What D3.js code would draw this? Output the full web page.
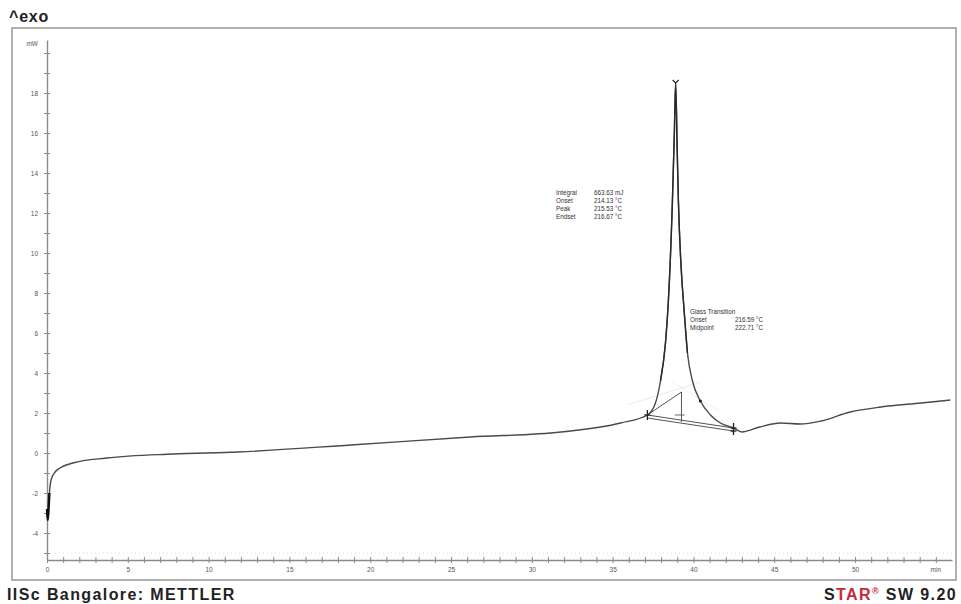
<!DOCTYPE html>
<html>
<head>
<meta charset="utf-8">
<script src="https://cdn.jsdelivr.net/npm/d3@7"></script>
<style>
  html, body { margin: 0; padding: 0; background: #fff; }
  svg { display: block; }
  text { font-family: "Liberation Sans", Arial, sans-serif; }
</style>
</head>
<body>
<svg id="chart" width="961" height="604"></svg>
<script>
// DSC heat-flow curve: time (min) vs heat flow (mW)
const timeMin = [0, 0.04, 0.08, 0.15, 0.25, 0.5, 0.8, 1.6, 3.7, 7.8, 11.8, 18.8, 26.2, 31.8, 35.5,
  37.15, 37.65, 37.96, 38.27, 38.45, 38.7, 38.82, 38.9,
  39.0, 39.07, 39.26, 39.38, 39.63, 39.94, 40.43, 41.05, 41.67, 42.48,
  43.0, 44.1, 45.4, 46.6, 47.9, 49.7, 51.6, 54.1, 55.9];
const heatFlow = [-2.8, -3.35, -3.0, -2.0, -1.35, -0.95, -0.75, -0.5, -0.25, -0.05, 0.05, 0.4, 0.8, 1.05, 1.5,
  1.9, 2.5, 3.6, 5.5, 7.6, 12.6, 16.0, 18.5,
  15.0, 12.6, 9.0, 7.6, 5.0, 3.6, 2.6, 1.9, 1.5, 1.25,
  1.05, 1.3, 1.5, 1.45, 1.6, 2.05, 2.3, 2.5, 2.65];

// Axis ticks
const xTickValues = [0, 5, 10, 15, 20, 25, 30, 35, 40, 45, 50];
const xUnit = "min";
const yTickValues = [-4, -2, 0, 2, 4, 6, 8, 10, 12, 14, 16, 18];
const yUnit = "mW";

// Evaluation results
const peakLabels = ["Integral", "Onset", "Peak", "Endset"];
const peakValues = ["663.63 mJ", "214.13 °C", "215.53 °C", "216.67 °C"];
const glassLabels = ["Glass Transition", "Onset", "Midpoint"];
const glassValues = ["", "216.59 °C", "222.71 °C"];

// Evaluation points (min, mW)
const onsetPt = [37.15, 1.9];
const endsetPt = [42.48, 1.25];
const peakPt = [38.9, 18.5];
const tangentTop = [39.26, 3.05];
const slopeDot = [40.43, 2.6];

const svg = d3.select("#chart");
const x = d3.scaleLinear().domain([0, 56]).range([47, 952]);
const y = d3.scaleLinear().domain([-5.35, 20.65]).range([560, 40]);

const ink = "#4a4a4a";
const axisInk = "#8a8a8a";

// Frame
svg.append("rect").attr("x", 12).attr("y", 28).attr("width", 944).attr("height", 552)
  .attr("fill", "none").attr("stroke", "#a8a8a8").attr("stroke-width", 1.8);

// Header and footer
svg.append("text").attr("x", 9).attr("y", 22).attr("font-size", 16).attr("font-weight", "bold")
  .attr("fill", "#222").attr("letter-spacing", 0.8).text("^exo");
svg.append("text").attr("x", 7).attr("y", 600).attr("font-size", 16).attr("font-weight", "bold")
  .attr("fill", "#222").attr("letter-spacing", 1.4).text("IISc Bangalore: METTLER");
const star = svg.append("text").attr("x", 957).attr("y", 600).attr("text-anchor", "end")
  .attr("font-size", 16).attr("font-weight", "bold").attr("fill", "#222").attr("letter-spacing", 1.4);
star.append("tspan").text("S");
star.append("tspan").attr("fill", "#c8283a").text("TAR");
star.append("tspan").attr("fill", "#c8283a").attr("font-size", 9).attr("dy", -6).text("®");
star.append("tspan").attr("dy", 6).text(" SW 9.20");

// Faint dotted reference line
svg.append("line").attr("x1", x(0)).attr("x2", x(56)).attr("y1", y(-5.0)).attr("y2", y(-5.0))
  .attr("stroke", "#dcdcdc").attr("stroke-dasharray", "1,3");

// Y axis
const yAxis = d3.axisLeft(y).tickValues(d3.range(-5, 21)).tickSize(0).tickFormat("");
const gy = svg.append("g").attr("transform", `translate(${x(0)},0)`).call(yAxis);
gy.select(".domain").attr("stroke", axisInk).attr("stroke-width", 1.4);
gy.selectAll(".tick").append("line").attr("x1", -3).attr("x2", 3).attr("stroke", axisInk);
gy.selectAll(".tick").filter(d => yTickValues.includes(d)).append("text")
  .attr("x", -9).attr("dy", "0.32em").attr("text-anchor", "end")
  .attr("font-size", 6.5).attr("fill", "#555").text(d => d);
svg.append("text").attr("x", 38).attr("y", y(20) - 7).attr("text-anchor", "end")
  .attr("font-size", 6.5).attr("fill", "#555").text(yUnit);

// X axis
const xAxis = d3.axisBottom(x).tickValues(d3.range(0, 56)).tickSize(0).tickFormat("");
const gx = svg.append("g").attr("transform", `translate(0,${y(-5.35)})`).call(xAxis);
gx.select(".domain").attr("stroke", axisInk).attr("stroke-width", 1.4);
gx.selectAll(".tick").append("line").attr("y1", -3).attr("y2", 3).attr("stroke", axisInk);
gx.selectAll(".tick").filter(d => xTickValues.includes(d)).append("text")
  .attr("y", 12).attr("text-anchor", "middle").attr("font-size", 6.5).attr("fill", "#555").text(d => d);
svg.append("text").attr("x", x(55)).attr("y", y(-5.35) + 12).attr("text-anchor", "middle")
  .attr("font-size", 6.5).attr("fill", "#555").text(xUnit);

// Evaluation construction lines
const seg = (a, b, w, col) => svg.append("line")
  .attr("x1", x(a[0])).attr("y1", y(a[1])).attr("x2", x(b[0])).attr("y2", y(b[1]))
  .attr("stroke", col || "#555").attr("stroke-width", w || 1);
seg([35.9, 2.4], [tangentTop[0] + 1.2, 3.55], 0.6, "#dedede");
seg(onsetPt, endsetPt, 1.1);
seg([onsetPt[0], onsetPt[1] - 0.15], [endsetPt[0], endsetPt[1] - 0.15], 1);
seg(onsetPt, tangentTop, 1);
seg(tangentTop, [tangentTop[0], 1.55], 1);
seg([38.85, 1.9], [39.45, 1.9], 0.9);
seg([38.6, 3.6], [41.6, 2.1], 0.5, "#e2e2e2");

// Heat-flow curve
const pts = timeMin.map((t, i) => [t, heatFlow[i]]);
const line = d3.line().x(d => x(d[0])).y(d => y(d[1])).curve(d3.curveMonotoneX);
svg.append("path").datum(pts).attr("d", line).attr("fill", "none")
  .attr("stroke", ink).attr("stroke-width", 1.4).attr("stroke-linejoin", "round");
// darker trace over the melting peak
svg.append("path").datum(pts.slice(17, 28)).attr("d", line).attr("fill", "none")
  .attr("stroke", "#2a2a2a").attr("stroke-width", 1.4);
// noisy start segment
svg.append("path").datum(pts.slice(0, 4)).attr("d", line).attr("fill", "none")
  .attr("stroke", "#111").attr("stroke-width", 2.4);

// Markers
const cross = (p, h) => {
  const cx = x(p[0]), cy = y(p[1]);
  svg.append("line").attr("x1", cx).attr("x2", cx).attr("y1", cy - h).attr("y2", cy + h)
    .attr("stroke", "#222").attr("stroke-width", 1.3);
  svg.append("line").attr("x1", cx - 3).attr("x2", cx + 3).attr("y1", cy).attr("y2", cy)
    .attr("stroke", "#222").attr("stroke-width", 1.3);
};
cross(onsetPt, 5);
cross(endsetPt, 5);
cross([endsetPt[0], endsetPt[1] - 0.15], 4);
svg.append("path")
  .attr("d", `M${x(peakPt[0]) - 3},${y(peakPt[1]) - 3}L${x(peakPt[0])},${y(peakPt[1])}L${x(peakPt[0]) + 3},${y(peakPt[1]) - 3}`)
  .attr("fill", "none").attr("stroke", "#222").attr("stroke-width", 1.2);
svg.append("circle").attr("cx", x(slopeDot[0])).attr("cy", y(slopeDot[1])).attr("r", 1.6).attr("fill", "#222");

// Result text blocks
const block = (labels, values, lx, vx, top) => {
  labels.forEach((l, i) => {
    svg.append("text").attr("x", lx).attr("y", top + i * 8).attr("font-size", 6.3).attr("fill", "#333").text(l);
    if (values[i]) svg.append("text").attr("x", vx).attr("y", top + i * 8).attr("font-size", 6.3)
      .attr("fill", "#333").text(values[i]);
  });
};
block(peakLabels, peakValues, 556, 594, 195);
block(glassLabels, glassValues, 690, 735, 314);
</script>
</body>
</html>
